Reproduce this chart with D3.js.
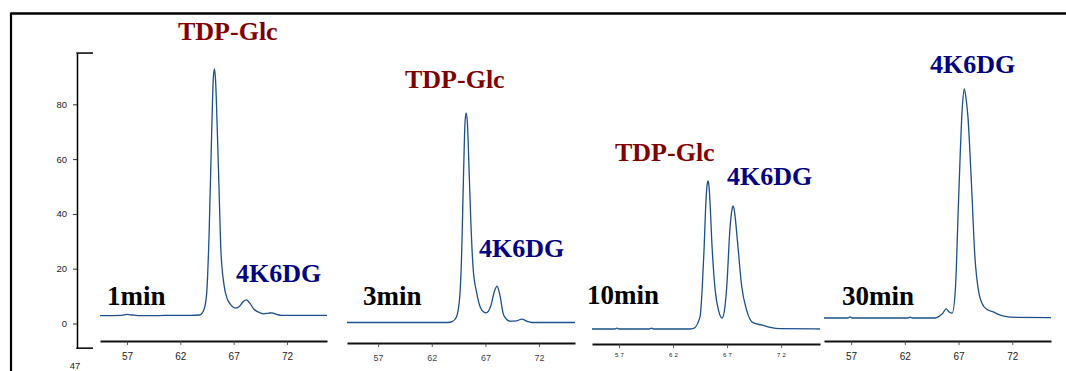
<!DOCTYPE html>
<html><head><meta charset="utf-8">
<script src="https://cdn.jsdelivr.net/npm/d3@7"></script>
<style>body{margin:0;background:#fff}svg{display:block}</style>
</head><body><svg id="c" width="1066" height="371"></svg>
<script>
// ---------- data ----------
const timeLabels = ["1min", "3min", "10min", "30min"];
const xTicks = [57, 62, 67, 72];
const yTicks = [0, 20, 40, 60, 80];
const yDomain = [-9, 98.7];
const xDomains = [[54.47, 75.75], [54.1, 75.35], [54.5, 75.6], [54.48, 75.6]];
const yAxisExtraLabel = "47";

const trace1min = [[54.47,2.9],[56.5,3.0],[57,3.3],[57.5,3.1],[58,2.9],[60,2.9],[61,3.0],[63,3.0],[63.8,3.1],[64.2,4.9],[64.47,11],[64.7,33],[64.94,70],[65.1,90],[65.2,92.9],[65.3,89],[65.47,70],[65.66,45],[65.8,27],[66.1,14],[66.4,9],[66.7,7],[67.2,5.6],[67.6,6.5],[67.9,8],[68.2,8.6],[68.5,7.5],[68.9,5.2],[69.3,4.2],[69.8,3.5],[70.3,3.8],[70.6,3.9],[71,3.3],[71.5,3.0],[75.75,3.0]];
const trace3min = [[54.1,3.0],[60,3.0],[63.5,3.0],[63.9,3.3],[64.3,5],[64.6,12],[64.8,30],[64.95,55],[65.1,76],[65.2,79.5],[65.32,76],[65.45,62],[65.64,40],[65.85,23],[66.2,13.6],[66.66,7.5],[67.06,6.5],[67.5,9],[67.85,14.5],[68.09,16.3],[68.35,13],[68.7,5.7],[69.3,3.5],[69.9,3.6],[70.4,4.2],[70.9,3.4],[71.3,3.0],[75.35,3.0]];
const trace10min = [[54.5,3.0],[56.6,3.0],[56.8,3.3],[57.0,3.0],[59.8,3.0],[60.0,3.3],[60.2,3.0],[63.5,3.0],[63.9,3.2],[64.5,7.5],[64.7,18],[64.87,32],[65.05,50],[65.15,55.5],[65.24,57],[65.33,55],[65.45,47],[65.58,35.5],[65.9,17.2],[66.2,10],[66.54,7.0],[66.8,11],[66.97,18.4],[67.28,40.3],[67.45,46.5],[67.56,47.9],[67.7,45.5],[67.95,35.5],[68.36,18.4],[68.8,10],[69.4,5.3],[70.24,4.4],[70.99,3.6],[71.9,3.1],[75.6,3.0]];
const trace30min = [[54.48,3.0],[56.7,3.0],[56.9,3.4],[57.1,3.0],[62.3,3.0],[62.5,3.3],[62.7,3.0],[64.8,3.0],[65.14,3.5],[65.5,4.6],[65.85,6.3],[66.1,5.3],[66.41,4.8],[66.7,13.2],[67.0,46],[67.35,80],[67.53,86.6],[67.7,83],[67.87,76.5],[68.2,52],[68.5,26.6],[68.9,12],[69.37,7.1],[69.8,5.8],[70.23,5.2],[70.7,4.3],[71.2,3.7],[72.44,3.2],[75.6,3.1]];
const traces = [trace1min, trace3min, trace10min, trace30min];

const peakNameA = "TDP-Glc";
const peakNameB = "4K6DG";

// ---------- layout ----------
const svg = d3.select("#c");
const pxPerUnit = 2.74;
const panels = [
  {x0:100, x1:327, axisY:341, zeroY:323.5, tickFont:10, tickLS:0, labY:360, tickColor:"#222",
   time:[107,305], A:[178,40], B:[236,282]},
  {x0:347, x1:575, axisY:343, zeroY:330.7, tickFont:9, tickLS:0, labY:361, tickColor:"#444",
   time:[363,305], A:[405,88], B:[479,257]},
  {x0:592, x1:820, axisY:344, zeroY:337.2, tickFont:6, tickLS:2.2, labY:357, tickColor:"#222",
   time:[587,304], A:[615,161], B:[727,185]},
  {x0:824, x1:1051, axisY:341, zeroY:326.2, tickFont:10, tickLS:0, labY:360, tickColor:"#222",
   time:[842,305], B:[930,73]}
];

// outer frame
svg.append("line").attr("x1",11).attr("x2",1066).attr("y1",13.5).attr("y2",13.5)
  .attr("stroke","#000").attr("stroke-width",2.5);
svg.append("line").attr("x1",11).attr("x2",11).attr("y1",12.5).attr("y2",371)
  .attr("stroke","#000").attr("stroke-width",2.2);

panels.forEach((p,i) => {
  const x = d3.scaleLinear().domain(xDomains[i]).range([p.x0, p.x1]);
  const y = d3.scaleLinear().domain(yDomain)
    .range([p.zeroY - yDomain[0]*pxPerUnit, p.zeroY - yDomain[1]*pxPerUnit]);

  // x axis
  const ax = svg.append("g").attr("transform",`translate(0,${p.axisY})`)
    .call(d3.axisBottom(x).tickValues(xTicks).tickSize(4).tickSizeOuter(0).tickPadding(5));
  ax.select(".domain").attr("stroke","#111").attr("stroke-width",2);
  ax.selectAll(".tick line").attr("stroke","#333").attr("stroke-width",0.8);
  ax.selectAll(".tick text").attr("font-family","'Liberation Sans',Arial,sans-serif")
    .attr("font-size",p.tickFont).attr("fill",p.tickColor);
  ax.selectAll(".tick text").each(function(){
    d3.select(this).attr("y", p.labY - p.axisY).attr("dy",0);
    if (p.tickLS) {
      const t = d3.select(this).text();
      d3.select(this).text(t.split("").join(" ")).attr("letter-spacing",0.3);
    }
  });

  // trace
  svg.append("path").datum(traces[i])
    .attr("fill","none").attr("stroke","#1c4f8c").attr("stroke-width",1.3)
    .attr("d", d3.line().x(d=>x(d[0])).y(d=>y(d[1])).curve(d3.curveMonotoneX));

  // y axis on first panel
  if (i===0) {
    const yAxX = 77;
    const ay = svg.append("g").attr("transform",`translate(${yAxX},0)`)
      .call(d3.axisLeft(y).tickValues(yTicks).tickSize(4).tickSizeOuter(0).tickPadding(6));
    ay.select(".domain").attr("stroke","#000").attr("stroke-width",1.5);
    ay.selectAll(".tick line").attr("stroke","#333");
    ay.selectAll(".tick text").attr("font-family","'Liberation Sans',Arial,sans-serif")
      .attr("font-size",9.5).attr("fill","#222");
    const [yb, yt] = y.range();
    svg.append("line").attr("x1",yAxX-0.75).attr("x2",yAxX+16).attr("y1",yt).attr("y2",yt)
      .attr("stroke","#000").attr("stroke-width",1.5);
    svg.append("line").attr("x1",yAxX-0.75).attr("x2",yAxX+16).attr("y1",yb).attr("y2",yb)
      .attr("stroke","#000").attr("stroke-width",1.5);
    svg.append("text").attr("x",yAxX-2).attr("y",369).attr("text-anchor","middle")
      .attr("font-family","'Liberation Sans',Arial,sans-serif").attr("font-size",9.5)
      .attr("fill","#222").text(yAxisExtraLabel);
  }

  // labels
  const serif = "'Liberation Serif','Times New Roman',serif";
  svg.append("text").attr("x",p.time[0]).attr("y",p.time[1])
    .attr("font-family",serif).attr("font-weight","bold").attr("font-size",27)
    .attr("fill","#000").text(timeLabels[i]);
  if (p.A) svg.append("text").attr("x",p.A[0]).attr("y",p.A[1])
    .attr("font-family",serif).attr("font-weight","bold").attr("font-size",26)
    .attr("fill","#800000").text(peakNameA);
  if (p.B) svg.append("text").attr("x",p.B[0]).attr("y",p.B[1])
    .attr("font-family",serif).attr("font-weight","bold").attr("font-size",26)
    .attr("fill","#000080").text(peakNameB);
});
</script></body></html>
